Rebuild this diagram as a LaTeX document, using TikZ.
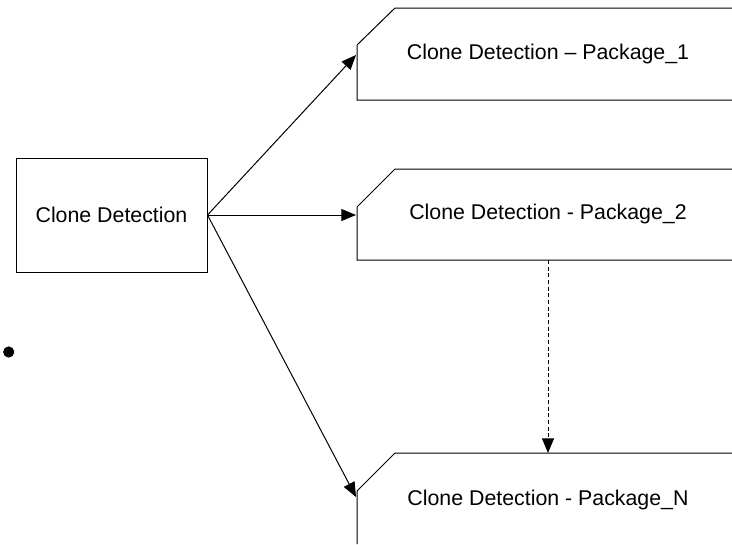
\documentclass[tikz,border=0pt]{standalone}
\usepackage{fontspec}
\setmainfont{Liberation Sans}
\usetikzlibrary{arrows.meta}
\tikzset{
  flow/.style={line width=0.75, -{Triangle[length=11pt,width=9pt]}},
  pkgline/.style={line width=0.75},
  pkgtext/.style={font=\fontsize{16}{19}\selectfont}
}
\begin{document}
\begin{tikzpicture}[x=0.75pt,y=0.75pt,yscale=-1,xscale=1]
\useasboundingbox (0,0) rectangle (732,544);

%Shape: Rectangle [id:cd]
\node (cd) [draw, line width=0.75, minimum width=143.25pt, minimum height=85.5pt, inner sep=0, pkgtext] at (111.5,215) {Clone Detection};

%Shape: Package 1
\draw [pkgline] (732,8) -- (395,8) -- (357,45) -- (357,100) -- (732,100) ;
%Shape: Package 2
\draw [pkgline] (732,169) -- (395,169) -- (357,207) -- (357,260) -- (732,260) ;
%Shape: Package N
\draw [pkgline] (732,453) -- (395,453) -- (357,491) -- (357,544) ;

% Text Node
\draw (548,54) node [pkgtext] (pk1) {Clone Detection \textendash{} Package\_1};
% Text Node
\draw (548,214) node [pkgtext] (pk2) {Clone Detection - Package\_2};
% Text Node
\draw (548,500) node [pkgtext] (pkN) {Clone Detection - Package\_N};

\coordinate (pk1in) at (356,55);
\coordinate (pk2in) at (356,215);
\coordinate (pkNin) at (356,497);
\coordinate (pk2out) at (548,260);
\coordinate (pkNtop) at (548,453);

%Straight Lines
\draw [flow] (cd.east) -- (pk1in) ;
\draw [flow] (cd.east) -- (pk2in) ;
\draw [flow] (cd.east) -- (pkNin) ;
%Dashed Line
\draw [flow, dash pattern=on 3pt off 2pt] (pk2out) -- (pkNtop) ;

%Shape: Dot
\fill (8.7,352) circle [radius=4.2pt] ;

\end{tikzpicture}
\end{document}
